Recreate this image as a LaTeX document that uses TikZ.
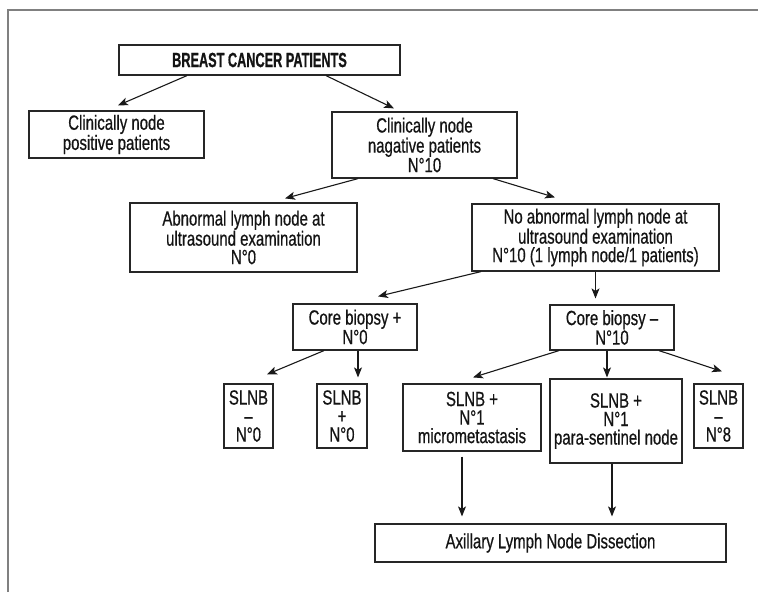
\documentclass[tikz,border=0pt]{standalone}
\usepackage{fontspec}
\setmainfont{Liberation Sans}[FakeStretch=0.73,FakeBold=0.6]
\newfontfamily\bcpfont{Liberation Sans Bold}[FakeStretch=0.62,FakeBold=0.8]
\usetikzlibrary{arrows.meta}
\begin{document}
\begin{tikzpicture}[x=1pt,y=-1pt,
  box/.style={draw=black!85, line width=1.2pt, inner sep=0pt, align=center,
    font=\fontsize{20.5}{18.5}\selectfont, text=black!92},
  arr/.style={-{Stealth[length=10pt,width=8pt,inset=2.5pt]}, line width=1.1pt, black!90}]
\useasboundingbox (0,0) rectangle (758,592);
\draw[black!50, line width=1.5pt] (8,592) -- (8,10) -- (758,10);

\node[box, minimum width=281pt, minimum height=30pt] (bcp) at (259.5,60) {\bcpfont BREAST CANCER PATIENTS};
\node[box, minimum width=175pt, minimum height=47pt] (pos) at (116.5,134.5) {Clinically node\\positive patients};
\node[box, minimum width=185pt, minimum height=66pt] (neg) at (424.5,145) {Clinically node\\nagative patients\\N°10};
\node[box, minimum width=227pt, minimum height=69pt] (abn) at (243.5,237.5) {Abnormal lymph node at\\ultrasound examination\\N°0};
\node[box, minimum width=247pt, minimum height=67pt] (noabn) at (595.5,237.5) {No abnormal lymph node at\\ultrasound examination\\N°10 (1 lymph node/1 patients)};
\node[box, minimum width=124pt, minimum height=46pt] (cbp) at (355,327) {Core biopsy +\\N°0};
\node[box, minimum width=124pt, minimum height=45pt] (cbm) at (612,327.5) {Core biopsy –\\N°10};
\node[box, minimum width=49pt, minimum height=64pt] (s1) at (248.5,416) {SLNB\\–\\N°0};
\node[box, minimum width=50pt, minimum height=64pt] (s2) at (342,416) {SLNB\\+\\N°0};
\node[box, minimum width=138pt, minimum height=67pt] (s3) at (472,417.5) {SLNB +\\N°1\\micrometastasis};
\node[box, minimum width=132pt, minimum height=84pt] (s4) at (616,421) {SLNB +\\N°1\\para-sentinel node};
\node[box, minimum width=49pt, minimum height=64pt] (s5) at (718.5,416) {SLNB\\–\\N°8};
\node[box, minimum width=351pt, minimum height=38pt] (alnd) at (550.5,543) {Axillary Lymph Node Dissection};

\draw[arr] ([xshift=-72.5pt]bcp.south) -- ([xshift=1.5pt,yshift=5pt]pos.north);
\draw[arr] ([xshift=66.5pt]bcp.south) -- ([xshift=-30.5pt,yshift=3pt]neg.north);
\draw[arr] ([xshift=-66.5pt]neg.south) -- ([xshift=41.5pt,yshift=4pt]abn.north);
\draw[arr] ([xshift=68.5pt]neg.south) -- ([xshift=-40.5pt,yshift=6pt]noabn.north);
\draw[arr] ([xshift=-114.5pt]noabn.south) -- ([xshift=23pt,yshift=7pt]cbp.north);
\draw[arr] (noabn.south) -- ([xshift=-16.5pt,yshift=6pt]cbm.north);
\draw[arr] ([xshift=-31pt]cbp.south) -- ([xshift=18.5pt,yshift=9pt]s1.north);
\draw[arr] ([xshift=3pt]cbp.south) -- ([xshift=16pt,yshift=6pt]s2.north);
\draw[arr] ([xshift=-53pt]cbm.south) -- ([xshift=1pt,yshift=6pt]s3.north);
\draw[arr] ([xshift=-5pt]cbm.south) -- ([xshift=-9pt,yshift=1pt]s4.north);
\draw[arr] ([xshift=47pt]cbm.south) -- ([xshift=3.5pt,yshift=12pt]s5.north);
\draw[arr] ([xshift=-10pt,yshift=-5pt]s3.south) -- ([xshift=-88.5pt,yshift=7pt]alnd.north);
\draw[arr] ([xshift=-4pt]s4.south) -- ([xshift=61.5pt,yshift=7pt]alnd.north);
\end{tikzpicture}
\end{document}
